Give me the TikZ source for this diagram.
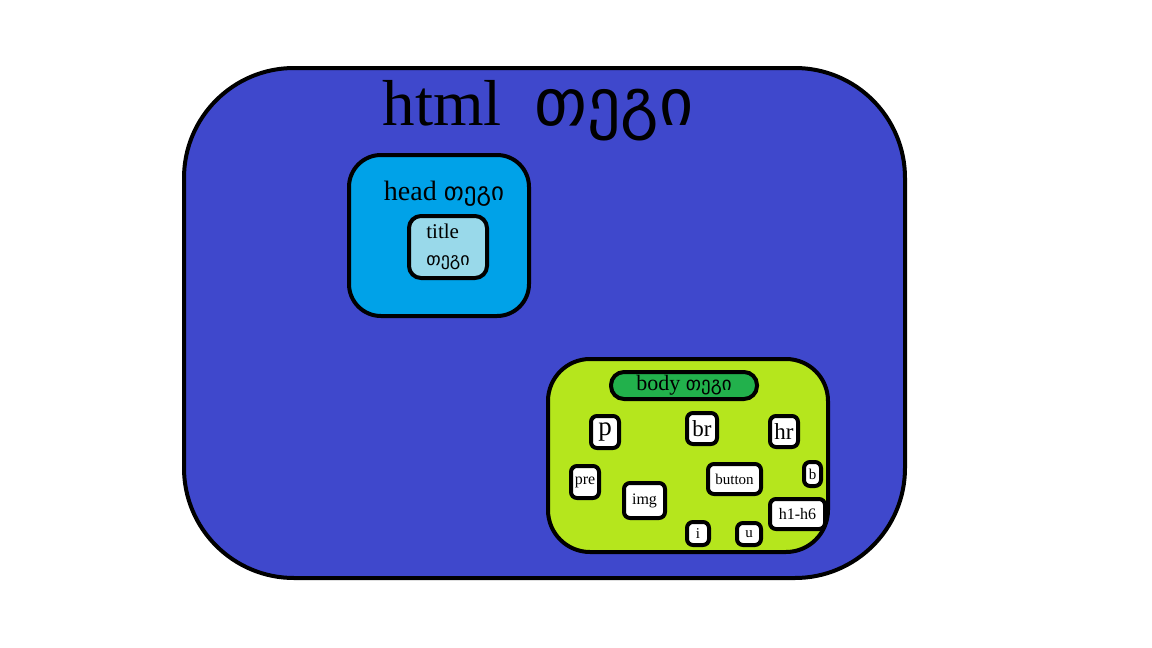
\documentclass[tikz,border=0pt]{standalone}
\usepackage{fontspec}
\setmainfont{Liberation Serif}
\newfontfamily\geofont{DejaVu Sans}
\newcommand{\geo}[1]{{\geofont #1}}
\definecolor{htmlfill}{HTML}{3F48CC}
\definecolor{headfill}{HTML}{00A2E8}
\definecolor{titlefill}{HTML}{99D9EA}
\definecolor{bodyfill}{HTML}{B5E61D}
\definecolor{labelfill}{HTML}{22B14C}
\tikzset{
  tagbox/.style={draw=black, line width=4pt, rounded corners=#1, inner sep=0pt},
  leaf/.style={tagbox=6pt, fill=white, font=\fontsize{#1}{#1}\selectfont},
}

\begin{document}
\begin{tikzpicture}[x=1pt,y=-1pt]
\useasboundingbox[fill=white] (0,0) rectangle (1152,648);

\node [tagbox=110pt, fill=htmlfill, minimum width=721pt, minimum height=510pt] (html) at (544.5,323) {};
\node [anchor=base, font=\fontsize{65}{65}\selectfont] (htmlcap) at (538,125) {html\hspace{0.5em}\geo{\fontsize{66}{66}\selectfont თეგი}};

\node [tagbox=32pt, fill=headfill, minimum width=180pt, minimum height=161pt] (head) at (439,235.5) {};
\node [anchor=base, font=\fontsize{28}{28}\selectfont] (headcap) at (444,200) {head \geo{\fontsize{25}{25}\selectfont თეგი}};
\node [tagbox=12pt, fill=titlefill, minimum width=78pt, minimum height=62pt, align=left, font=\fontsize{21}{21}\selectfont] (title) at (448,247) {title\\[6pt]\geo{\fontsize{18}{18}\selectfont თეგი}};

\node [tagbox=42pt, fill=bodyfill, minimum width=280pt, minimum height=193pt] (body) at (688,455.5) {};
\node [tagbox=13pt, fill=labelfill, minimum width=146pt, minimum height=27pt, font=\fontsize{22}{22}\selectfont] (bodycap) at (684,385.5) {body \geo{\fontsize{19}{19}\selectfont თეგი}};

\node [leaf=27, minimum width=28pt, minimum height=32pt] (p) at (605,432) {p};
\node [leaf=23, minimum width=30pt, minimum height=31pt] (br) at (702,428.5) {br};
\node [leaf=23, minimum width=28pt, minimum height=31pt] (hr) at (784,431.5) {hr};
\node [leaf=16, minimum width=28pt, minimum height=32pt] (pre) at (585,482) {pre};
\node [leaf=16, minimum width=41pt, minimum height=35pt] (img) at (644.5,500.5) {img};
\node [leaf=15, minimum width=53pt, minimum height=30pt] (button) at (734.5,479) {button};
\node [leaf=15, minimum width=17pt, minimum height=24pt] (b) at (812.5,474) {b};
\node [leaf=16, minimum width=55pt, minimum height=30pt] (h16) at (797.5,514) {h1-h6};
\node [leaf=15, minimum width=22pt, minimum height=23pt] (i) at (698,533.5) {i};
\node [leaf=15, minimum width=24pt, minimum height=22pt] (u) at (749,534) {u};
\end{tikzpicture}
\end{document}
